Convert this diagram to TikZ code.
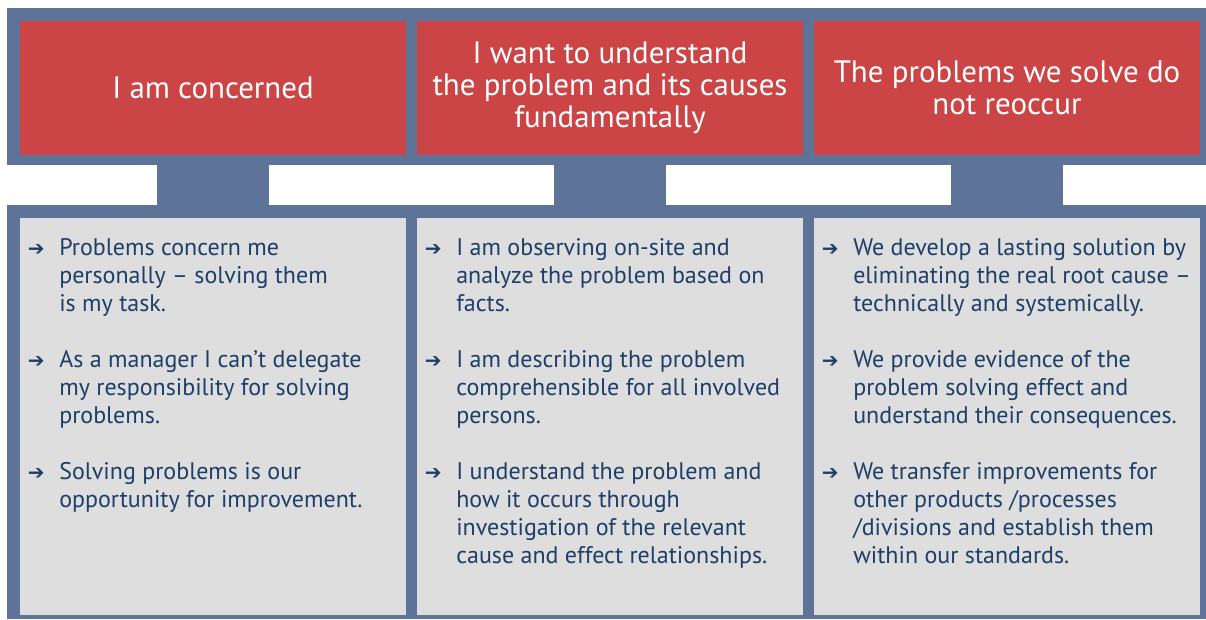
\documentclass[tikz,border=0pt]{standalone}
\usepackage{fontspec}
\setmainfont{PT Sans}
\newfontfamily\arrowfont{DejaVu Sans}
\usetikzlibrary{positioning}

\definecolor{framebg}{RGB}{94,115,152}
\definecolor{headred}{RGB}{203,69,70}
\definecolor{listgray}{RGB}{222,222,222}
\definecolor{listtext}{RGB}{28,62,104}
\newcommand\listarrow{\strut\llap{\raisebox{-0.5pt}{\arrowfont\bfseries\fontsize{15pt}{15pt}\selectfont ➔}\hspace{11pt}}}

\begin{document}
\begin{tikzpicture}[x=0.75pt, y=-0.75pt,
  head/.style={fill=headred, text=white, minimum width=289.5pt, minimum height=100.5pt,
    align=center, inner sep=0pt, font=\fontsize{23.2pt}{23.8pt}\selectfont},
  list/.style={fill=listgray, minimum width=289.5pt, minimum height=297.75pt, inner sep=0pt},
  item/.style={anchor=north west, align=left, inner sep=0pt, text=listtext,
    font=\fontsize{18pt}{21pt}\selectfont}]
\useasboundingbox (0,0) rectangle (1206,619);

% blue frame bands
\fill[framebg] (7,8) rectangle (1206,165);
\fill[framebg] (7,205) rectangle (1206,619);

% headers
\node[head] (concern) at (213,88) {I am concerned};
\node[head] (understand) at (610,88) {I want to understand\\the problem and its causes\\fundamentally};
\node[head] (reoccur) at (1007,88) {The problems we solve do\\not reoccur};

% lists
\node[list] (concernlist) at (213,416.5) {};
\node[list] (understandlist) at (610,416.5) {};
\node[list] (reoccurlist) at (1007,416.5) {};

% connectors
\fill[framebg] ([xshift=-42pt]concern.south) rectangle ([xshift=42pt]concernlist.north);
\fill[framebg] ([xshift=-42pt]understand.south) rectangle ([xshift=42pt]understandlist.north);
\fill[framebg] ([xshift=-42pt]reoccur.south) rectangle ([xshift=42pt]reoccurlist.north);

% items (top of first line = baseline - 0.7*21pt)
\node[item] (concern1) at (59,235.4) {\listarrow Problems concern me\\personally -- solving them\\is my task.};
\node[item] (concern2) at (59,347.4) {\listarrow As a manager I can’t delegate\\my responsibility for solving\\problems.};
\node[item] (concern3) at (59,459.4) {\listarrow Solving problems is our\\opportunity for improvement.};

\node[item] (understand1) at (456,235.4) {\listarrow I am observing on-site and\\analyze the problem based on\\facts.};
\node[item] (understand2) at (456,347.4) {\listarrow I am describing the problem\\comprehensible for all involved\\persons.};
\node[item] (understand3) at (456,459.4) {\listarrow I understand the problem and\\how it occurs through\\investigation of the relevant\\cause and effect relationships.};

\node[item] (reoccur1) at (853,235.4) {\listarrow We develop a lasting solution by\\eliminating the real root cause --\\technically and systemically.};
\node[item] (reoccur2) at (853,347.4) {\listarrow We provide evidence of the\\problem solving effect and\\understand their consequences.};
\node[item] (reoccur3) at (853,459.4) {\listarrow We transfer improvements for\\other products /processes\\/divisions and establish them\\within our standards.};
\end{tikzpicture}
\end{document}
